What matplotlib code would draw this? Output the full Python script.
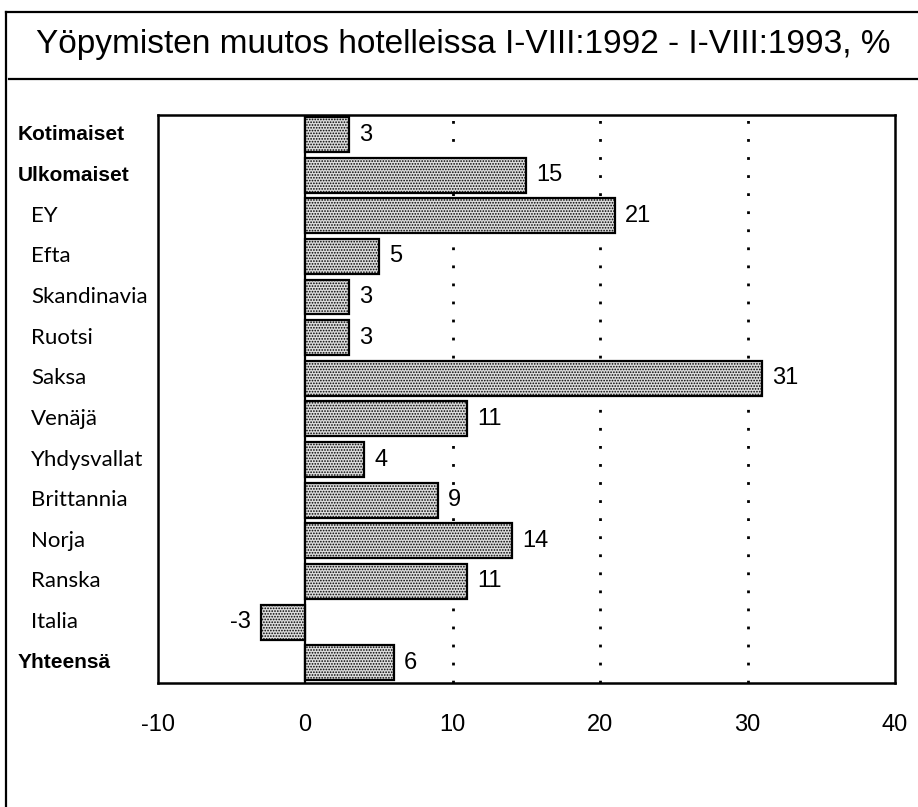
import numpy as np
import matplotlib
matplotlib.use("Agg")
from matplotlib import pyplot as plt
from matplotlib.lines import Line2D
import matplotlib.transforms as mtransforms

# data
categories = ["Kotimaiset", "Ulkomaiset", "EY", "Efta", "Skandinavia", "Ruotsi",
              "Saksa", "Venäjä", "Yhdysvallat", "Brittannia", "Norja", "Ranska",
              "Italia", "Yhteensä"]
values = [3, 15, 21, 5, 3, 3, 31, 11, 4, 9, 14, 11, -3, 6]
bold_rows = ["Kotimaiset", "Ulkomaiset", "Yhteensä"]
xticks = [-10, 0, 10, 20, 30, 40]

title = "Yöpymisten muutos hotelleissa I-VIII:1992 - I-VIII:1993, %"

narrow = ["Liberation Sans", "DejaVu Sans"]
plt.rcParams["hatch.linewidth"] = 0.8
plt.rcParams["hatch.color"] = "#555555"

W, H = 918, 807
fig = plt.figure(figsize=(W / 100, H / 100), dpi=100)

# outer frame and title rule
fig.add_artist(Line2D([6 / W, 6 / W], [0, 1 - 12 / H], color="black", lw=1.6))
fig.add_artist(Line2D([6 / W, 1], [1 - 12 / H, 1 - 12 / H], color="black", lw=1.6))
fig.add_artist(Line2D([9 / W, 1], [1 - 79 / H, 1 - 79 / H], color="black", lw=1.6))
fig.text(463 / W, 1 - 45 / H, title, ha="center", va="center",
         fontsize=24, family=narrow)

left, right, top, bottom = 157.5, 895, 115, 683
ax = fig.add_axes([left / W, 1 - bottom / H, (right - left) / W, (bottom - top) / H])

y = np.arange(len(categories))
ax.barh(y, values, height=0.86, color="#dcdcdc", edgecolor="black",
        linewidth=1.6, hatch="......", zorder=3)
for yi, v in zip(y, values):
    if v >= 0:
        ax.text(v + 0.7, yi, str(v), ha="left", va="center",
                fontsize=17, family=narrow, zorder=4,
                bbox=dict(facecolor="white", edgecolor="none", pad=0.5))
    else:
        ax.text(v - 0.7, yi, str(v), ha="right", va="center",
                fontsize=17, family=narrow, zorder=4,
                bbox=dict(facecolor="white", edgecolor="none", pad=0.5))

ax.axvline(0, color="black", lw=1.6, zorder=2)
for g in [10, 20, 30]:
    ax.axvline(g, color="black", lw=2.0, linestyle=(0, (1, 5.5)), zorder=1)

ax.set_xlim(-10, 40)
ax.set_ylim(len(categories) - 0.5, -0.48)
ax.set_xticks(xticks)
ax.set_xticklabels([str(t) for t in xticks], fontsize=17, family=narrow)
ax.tick_params(axis="x", length=0, pad=22)
ax.set_yticks([])
for s in ax.spines.values():
    s.set_linewidth(1.8)

# row labels in figure-x / data-y coordinates
trans = mtransforms.blended_transform_factory(fig.transFigure, ax.transData)
for yi, name in zip(y, categories):
    if name in bold_rows:
        ax.text(18 / W, yi, name, transform=trans, ha="left", va="center",
                fontsize=15, fontweight="bold", family=narrow)
    else:
        ax.text(31 / W, yi, name, transform=trans, ha="left", va="center",
                fontsize=16, family=["Lato", "DejaVu Sans"])

fig.savefig("out.png", dpi=100)
